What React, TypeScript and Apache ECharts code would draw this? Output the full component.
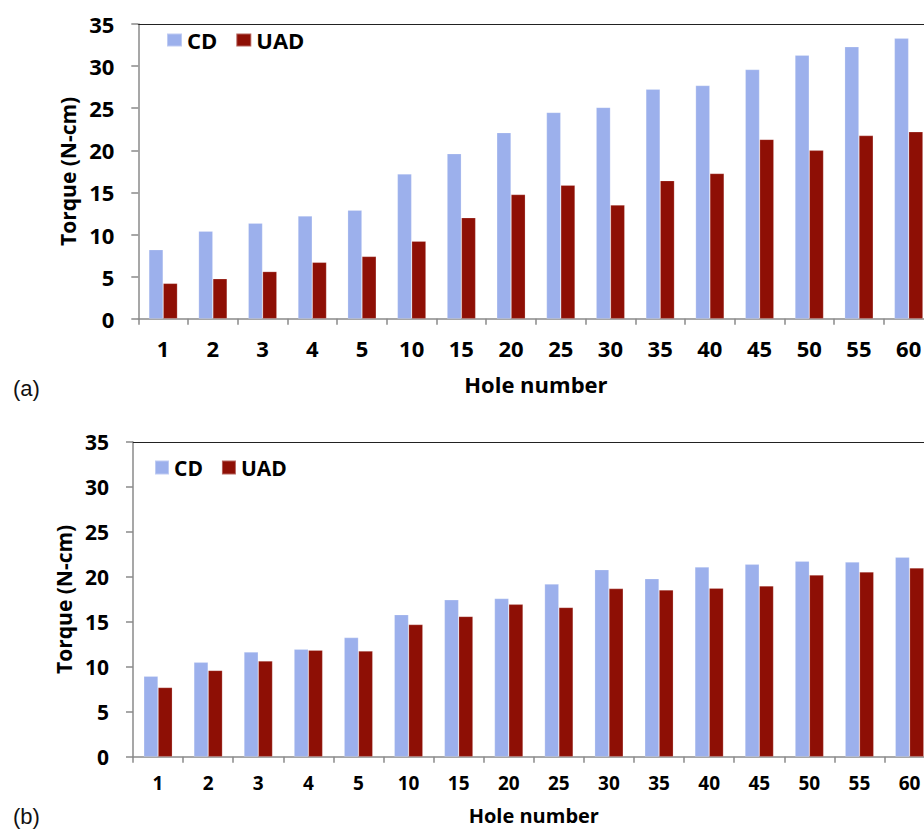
import React, { useEffect, useRef } from "react";
import * as echarts from "echarts";

const holes = ["1", "2", "3", "4", "5", "10", "15", "20", "25", "30", "35", "40", "45", "50", "55", "60"];
const cdA = [8.2, 10.4, 11.35, 12.2, 12.9, 17.2, 19.6, 22.1, 24.5, 25.1, 27.25, 27.7, 29.6, 31.3, 32.3, 33.3];
const uadA = [4.2, 4.75, 5.6, 6.7, 7.4, 9.2, 12.0, 14.75, 15.85, 13.5, 16.4, 17.25, 21.3, 20.0, 21.75, 22.2];
const cdB = [8.95, 10.5, 11.65, 11.95, 13.25, 15.8, 17.45, 17.6, 19.2, 20.8, 19.8, 21.1, 21.4, 21.75, 21.65, 22.2];
const uadB = [7.7, 9.6, 10.65, 11.85, 11.75, 14.7, 15.6, 16.95, 16.6, 18.7, 18.55, 18.75, 19.0, 20.2, 20.55, 21.0];
const seriesNames = ["CD", "UAD"];
const panelLabels = ["(a)", "(b)"];
const yName = "Torque (N-cm)";
const xName = "Hole number";

const CD_COLOR = "#9cb0ec";
const UAD_COLOR = "#8e0f05";
const FONT = "'Open Sans', sans-serif";

export default function App() {
  const ref = useRef<HTMLDivElement>(null);
  useEffect(() => {
    if (!ref.current) return;
    const chart = echarts.init(ref.current, null, { renderer: "svg" });
    const axisGray = "#8a8a8a";
    const mkX = (gi: number, fs: number, margin: number, nameGap: number, nameSize: number) => ({
      type: "category",
      gridIndex: gi,
      data: holes,
      name: xName,
      nameLocation: "middle",
      nameGap,
      nameTextStyle: { fontFamily: FONT, fontWeight: "bold", fontSize: nameSize, color: "#000" },
      axisLine: { show: true, lineStyle: { color: axisGray, width: 1.5 } },
      axisTick: { show: true, inside: false, length: 6, lineStyle: { color: axisGray, width: 1.5 } },
      axisLabel: { fontFamily: FONT, fontWeight: "bold", fontSize: fs, color: "#000", margin, interval: 0 },
      splitLine: { show: false },
    });
    const mkTop = (gi: number) => ({
      type: "category",
      gridIndex: gi,
      position: "top",
      data: holes,
      axisLine: { show: true, lineStyle: { color: "#222", width: 1.2 } },
      axisTick: { show: false },
      axisLabel: { show: false },
      splitLine: { show: false },
    });
    const mkY = (gi: number, fs: number, margin: number, nameGap: number, nameSize: number) => ({
      type: "value",
      gridIndex: gi,
      min: 0,
      max: 35,
      interval: 5,
      name: yName,
      nameLocation: "middle",
      nameGap,
      nameRotate: 90,
      nameTextStyle: { fontFamily: FONT, fontWeight: "bold", fontSize: nameSize, color: "#000" },
      axisLine: { show: true, lineStyle: { color: axisGray, width: 1.5 } },
      axisTick: { show: true, inside: false, length: 7, lineStyle: { color: axisGray, width: 1.5 } },
      axisLabel: { fontFamily: FONT, fontWeight: "bold", fontSize: fs, color: "#000", margin },
      splitLine: { show: false },
    });
    const bar = (name: string, data: number[], color: string, xi: number, yi: number) => ({
      type: "bar",
      name,
      data,
      xAxisIndex: xi,
      yAxisIndex: yi,
      barWidth: 14.3,
      barGap: "0%",
      itemStyle: { color, borderColor: "rgba(255,255,255,0.35)", borderWidth: 0.6 },
    });
    chart.setOption({
      animation: false,
      backgroundColor: "#fff",
      title: [
        { text: panelLabels[0], left: 8, top: 372, textStyle: { fontFamily: "'Liberation Sans', Arial, sans-serif", fontWeight: "normal", fontSize: 22, color: "#111" } },
        { text: panelLabels[1], left: 8, top: 800, textStyle: { fontFamily: "'Liberation Sans', Arial, sans-serif", fontWeight: "normal", fontSize: 22, color: "#111" } },
      ],
      legend: [
        {
          data: seriesNames, left: 166, top: 29, padding: 0, itemWidth: 15, itemHeight: 13, itemGap: 18,
          icon: "rect", textStyle: { fontFamily: FONT, fontWeight: "bold", fontSize: 22, color: "#000" },
        },
        {
          data: seriesNames, left: 154, top: 457, padding: 0, itemWidth: 14, itemHeight: 14, itemGap: 18,
          icon: "rect", textStyle: { fontFamily: FONT, fontWeight: "bold", fontSize: 21, color: "#000" },
        },
      ],
      grid: [
        { left: 138.3, top: 24, width: 795.2, height: 294.7 },
        { left: 133, top: 442, width: 801.6, height: 314.7 },
      ],
      xAxis: [mkX(0, 22, 18, 54, 22), mkX(1, 19, 17, 49, 20), mkTop(0), mkTop(1)],
      yAxis: [mkY(0, 22, 24, 56, 21), mkY(1, 21, 24, 54, 21)],
      series: [
        bar(seriesNames[0], cdA, CD_COLOR, 0, 0),
        bar(seriesNames[1], uadA, UAD_COLOR, 0, 0),
        bar(seriesNames[0], cdB, CD_COLOR, 1, 1),
        bar(seriesNames[1], uadB, UAD_COLOR, 1, 1),
      ],
    });
    return () => chart.dispose();
  }, []);
  return (
    <div style={{ position: "absolute", left: 0, top: 0, width: 924, height: 835, overflow: "hidden", background: "#fff" }}>
      <div ref={ref} style={{ width: 980, height: 835 }} />
    </div>
  );
}
